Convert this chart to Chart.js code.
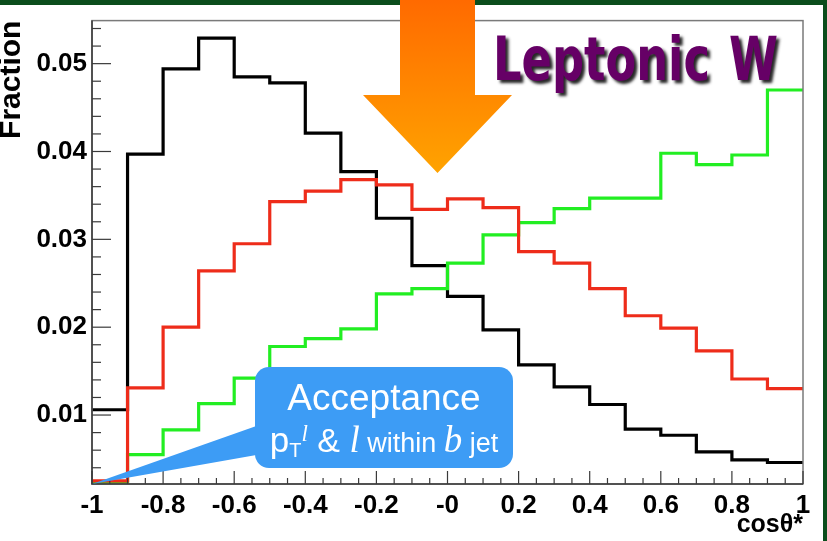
<!DOCTYPE html>
<html>
<head>
<meta charset="utf-8">
<script src="https://cdn.jsdelivr.net/npm/chart.js@4.4.1/dist/chart.umd.min.js"></script>
<style>
  html, body { margin: 0; padding: 0; background: #fff; }
  #wrap { width: 827px; height: 541px; }
</style>
</head>
<body>
<div id="wrap"><canvas id="chart" width="827" height="541"></canvas></div>
<script>
// bin edges of the cos(theta*) histogram
const binEdges = [-1, -0.9, -0.8, -0.7, -0.6, -0.5, -0.4, -0.3, -0.2, -0.1, 0,
                  0.1, 0.2, 0.3, 0.4, 0.5, 0.6, 0.7, 0.8, 0.9, 1];

// fraction per bin
const blackVals = [0.0106, 0.0397, 0.0494, 0.0529, 0.0485, 0.0478, 0.0421, 0.0377, 0.0324, 0.0270,
                   0.0235, 0.0197, 0.0157, 0.0132, 0.0112, 0.0084, 0.0077, 0.0058, 0.0049, 0.0046];
const redVals   = [0.0025, 0.0131, 0.0200, 0.0264, 0.0295, 0.0343, 0.0355, 0.0368, 0.0362, 0.0334,
                   0.0346, 0.0336, 0.0286, 0.0273, 0.0244, 0.0213, 0.0199, 0.0173, 0.0141, 0.0130];
const greenVals = [0.0023, 0.0055, 0.0083, 0.0113, 0.0142, 0.0178, 0.0187, 0.0198, 0.0238, 0.0244,
                   0.0273, 0.0305, 0.0319, 0.0335, 0.0347, 0.0347, 0.0398, 0.0385, 0.0396, 0.0470];

const xTickValues = [-1, -0.8, -0.6, -0.4, -0.2, 0, 0.2, 0.4, 0.6, 0.8, 1];
const xTickLabels = ['-1', '-0.8', '-0.6', '-0.4', '-0.2', '-0', '0.2', '0.4', '0.6', '0.8', '1'];
const yTickValues = [0.01, 0.02, 0.03, 0.04, 0.05];
const yTickLabels = ['0.01', '0.02', '0.03', '0.04', '0.05'];

const yMin = 0.00215;
const yMax = 0.0549;

// histogram outline: one point per left edge, last value repeated at the right edge
function histPoints(vals) {
    return binEdges.map((x, i) => ({ x: x, y: vals[Math.min(i, vals.length - 1)] }));
}

const frame = {
    id: 'frame',
    beforeDraw(chart) {
        const ctx = chart.ctx;
        ctx.save();
        ctx.fillStyle = '#ffffff';
        ctx.fillRect(0, 0, chart.width, chart.height);
        ctx.fillStyle = '#0b4d1c';
        ctx.fillRect(0, 0, chart.width, 5);
        ctx.fillRect(823, 0, 4, chart.height);
        ctx.restore();
    },
    afterDatasetsDraw(chart) {
        const ctx = chart.ctx;
        const a = chart.chartArea;
        const xs = chart.scales.x, ys = chart.scales.y;
        ctx.save();
        ctx.strokeStyle = '#7a7a7a';
        ctx.lineWidth = 1.5;
        ctx.strokeRect(a.left, a.top, a.right - a.left, a.bottom - a.top);
        ctx.strokeStyle = '#3a3a3a';
        ctx.beginPath();
        ctx.moveTo(a.left, a.top);
        ctx.lineTo(a.left, a.bottom);
        ctx.lineTo(a.right, a.bottom);
        ctx.stroke();
        // x ticks (minor every 0.05)
        ctx.lineWidth = 1.2;
        for (let k = 0; k <= 40; k++) {
            const v = -1 + k * 0.05;
            const px = xs.getPixelForValue(v);
            const len = (k % 4 === 0) ? 13 : 6;
            ctx.beginPath();
            ctx.moveTo(px, a.bottom);
            ctx.lineTo(px, a.bottom - len);
            ctx.stroke();
        }
        // y ticks (minor every 0.002)
        for (let k = 2; k <= 27; k++) {
            const v = k * 0.002;
            const py = ys.getPixelForValue(v);
            if (py < a.top) continue;
            const len = (k % 5 === 0) ? 19 : 9;
            ctx.beginPath();
            ctx.moveTo(a.left, py);
            ctx.lineTo(a.left + len, py);
            ctx.stroke();
        }
        ctx.restore();
    },
    afterDraw(chart) {
        const ctx = chart.ctx;
        const xs = chart.scales.x, ys = chart.scales.y;
        ctx.save();

        // callout
        const tipX = xs.getPixelForValue(-1);
        const tipY = ys.getPixelForValue(yMin);
        ctx.fillStyle = '#3d9cf5';
        ctx.beginPath();
        ctx.moveTo(tipX, tipY);
        ctx.lineTo(262, 424);
        ctx.lineTo(262, 454);
        ctx.closePath();
        ctx.fill();
        ctx.beginPath();
        ctx.roundRect(255, 367, 258, 101, 14);
        ctx.fill();

        ctx.fillStyle = '#ffffff';
        ctx.textAlign = 'center';
        ctx.textBaseline = 'alphabetic';
        ctx.font = '37px "Liberation Sans", Arial, sans-serif';
        ctx.fillText('Acceptance', 384, 410);

        const runs = [
            { t: 'p', f: '35px "Liberation Sans", Arial, sans-serif', dy: 0 },
            { t: 'T', f: '20px "Liberation Sans", Arial, sans-serif', dy: 5 },
            { t: 'l', f: 'italic 23px "Liberation Serif", serif', dy: -11 },
            { t: ' & ', f: '34px "Liberation Sans", Arial, sans-serif', dy: 0 },
            { t: 'l', f: 'italic 37px "Liberation Serif", serif', dy: 0 },
            { t: ' within ', f: '27px "Liberation Sans", Arial, sans-serif', dy: 0 },
            { t: 'b', f: 'italic 37px "Liberation Serif", serif', dy: 0 },
            { t: ' jet', f: '27px "Liberation Sans", Arial, sans-serif', dy: 0 }
        ];
        let total = 0;
        runs.forEach(r => { ctx.font = r.f; r.w = ctx.measureText(r.t).width; total += r.w; });
        let cx = 384 - total / 2;
        ctx.textAlign = 'left';
        runs.forEach(r => {
            ctx.font = r.f;
            ctx.fillText(r.t, cx, 452 + r.dy);
            cx += r.w;
        });

        // orange arrow
        const grad = ctx.createLinearGradient(0, 0, 0, 173);
        grad.addColorStop(0, '#ff6a00');
        grad.addColorStop(1, '#ffa300');
        ctx.fillStyle = grad;
        ctx.beginPath();
        ctx.moveTo(400, 0);
        ctx.lineTo(475, 0);
        ctx.lineTo(475, 95);
        ctx.lineTo(512, 95);
        ctx.lineTo(437.5, 173);
        ctx.lineTo(363, 95);
        ctx.lineTo(400, 95);
        ctx.closePath();
        ctx.fill();

        // title
        ctx.font = 'bold 48px "DejaVu Sans", sans-serif';
        ctx.fillStyle = '#660066';
        ctx.shadowColor = 'rgba(0,0,0,0.85)';
        ctx.shadowOffsetX = 3;
        ctx.shadowOffsetY = 3;
        ctx.shadowBlur = 3;
        const drawFit = (txt, x0, x1) => {
            const m = ctx.measureText(txt);
            ctx.save();
            ctx.translate(x0, 80);
            ctx.scale((x1 - x0) / m.width, 1.25);
            ctx.fillText(txt, 0, 0);
            ctx.restore();
        };
        drawFit('Leptonic', 493, 710);
        drawFit('W', 729, 778);
        ctx.restore();
    }
};

const ctx = document.getElementById('chart').getContext('2d');
new Chart(ctx, {
    type: 'line',
    data: {
        datasets: [
            { label: 'red', data: histPoints(redVals), borderColor: '#ee2c1a' },
            { label: 'green', data: histPoints(greenVals), borderColor: '#22ee22' },
            { label: 'black', data: histPoints(blackVals), borderColor: '#000000' }
        ]
    },
    options: {
        responsive: false,
        animation: false,
        layout: { padding: { top: 20, right: 24, left: 0, bottom: 0 } },
        elements: {
            line: { borderWidth: 3.2, stepped: 'before', tension: 0, fill: false, borderJoinStyle: 'miter', borderCapStyle: 'butt' },
            point: { radius: 0, hoverRadius: 0 }
        },
        plugins: { legend: { display: false }, tooltip: { enabled: false } },
        scales: {
            x: {
                type: 'linear',
                min: -1,
                max: 1,
                afterBuildTicks: s => { s.ticks = xTickValues.map(v => ({ value: v })); },
                afterFit: s => { s.height = 57; },
                grid: { display: false, drawTicks: false },
                border: { display: false },
                ticks: {
                    autoSkip: false,
                    maxRotation: 0,
                    padding: 6,
                    color: '#000',
                    font: { family: '"Liberation Sans", Arial, sans-serif', size: 26, weight: 'bold' },
                    callback: (v, i) => xTickLabels[i]
                },
                title: {
                    display: true,
                    text: 'cosθ*',
                    align: 'end',
                    color: '#000',
                    font: { family: '"Liberation Sans", Arial, sans-serif', size: 25, weight: 'bold', lineHeight: 1 },
                    padding: { top: 0, bottom: 3 }
                }
            },
            y: {
                min: yMin,
                max: yMax,
                afterBuildTicks: s => { s.ticks = yTickValues.map(v => ({ value: v })); },
                afterFit: s => { s.width = 92; },
                grid: { display: false, drawTicks: false },
                border: { display: false },
                ticks: {
                    padding: 5,
                    color: '#000',
                    font: { family: '"Liberation Sans", Arial, sans-serif', size: 26, weight: 'bold' },
                    callback: (v, i) => yTickLabels[i]
                },
                title: {
                    display: true,
                    text: 'Fraction',
                    align: 'end',
                    color: '#000',
                    font: { family: '"Liberation Sans", Arial, sans-serif', size: 30, weight: 'bold', lineHeight: 0.8 },
                    padding: 0
                }
            }
        }
    },
    plugins: [frame]
});
</script>
</body>
</html>
